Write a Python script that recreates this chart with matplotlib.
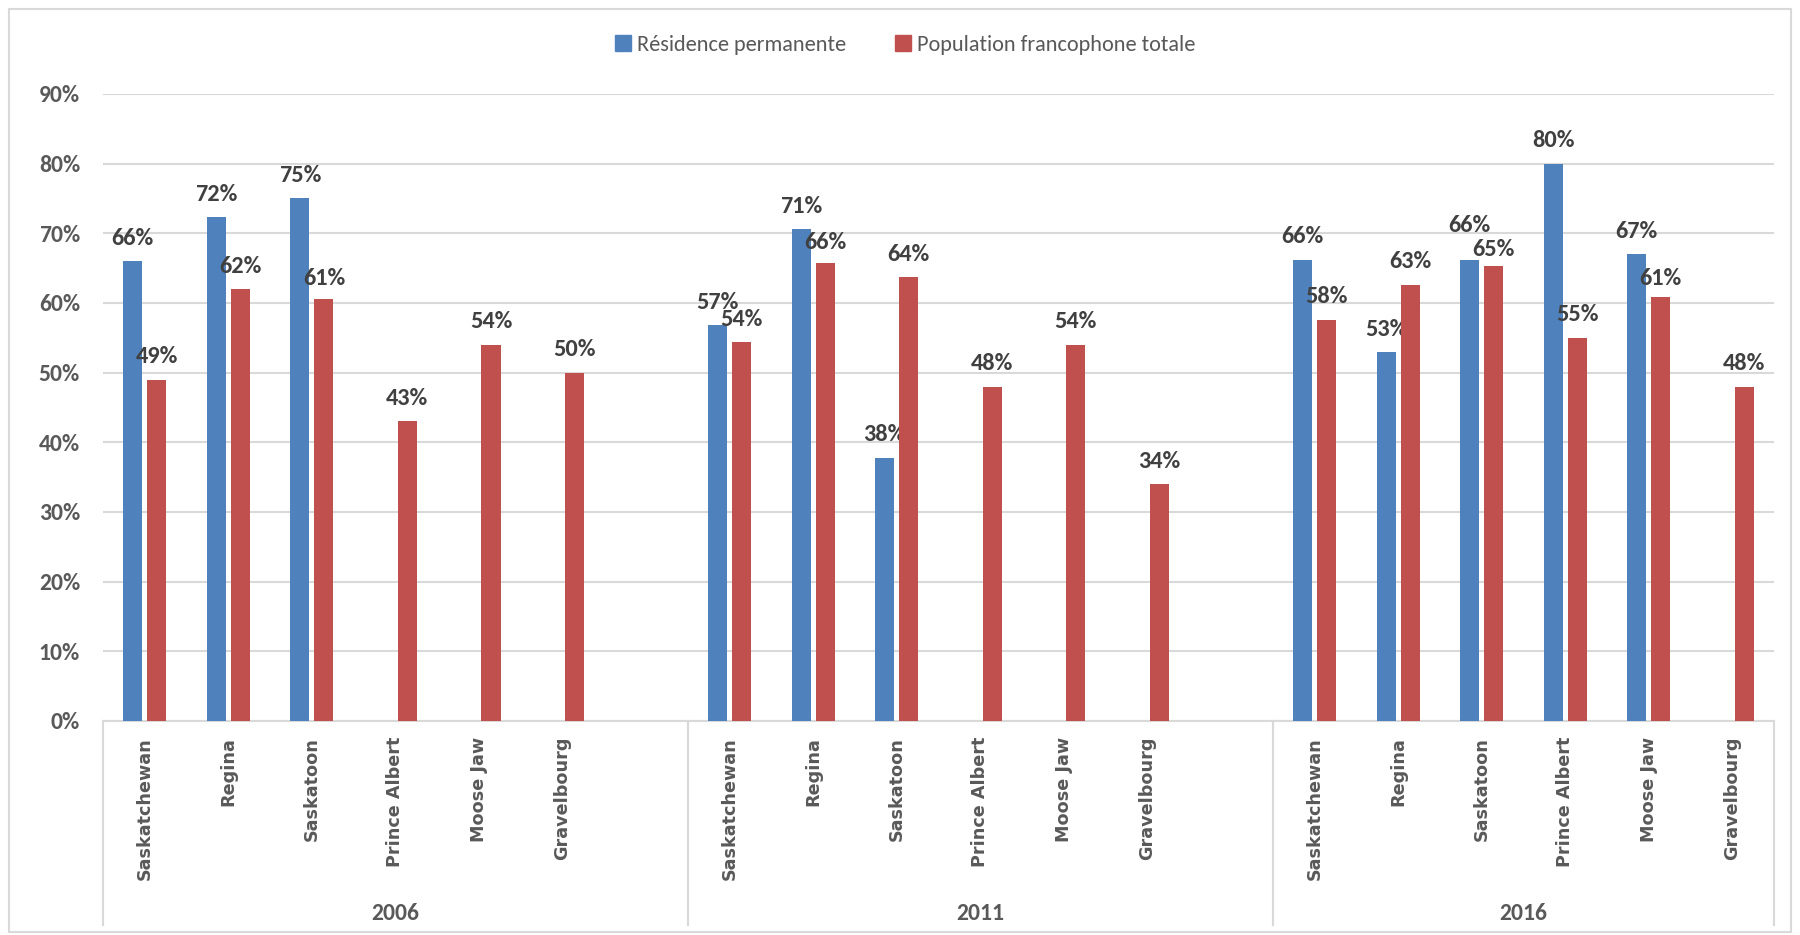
import matplotlib as mpl
mpl.use('agg')
import matplotlib.pyplot as plt
from matplotlib import font_manager
from matplotlib.patches import Patch
from matplotlib.lines import Line2D

years = ["2006", "2011", "2016"]
cities_2006 = ["Saskatchewan", "Regina", "Saskatoon", "Prince Albert", "Moose Jaw", "Gravelbourg", ""]
cities_2011 = ["Saskatchewan", "Regina", "Saskatoon", "Prince Albert", "Moose Jaw", "Gravelbourg", ""]
cities_2016 = ["Saskatchewan", "Regina", "Saskatoon", "Prince Albert", "Moose Jaw", "Gravelbourg"]

# résidence permanente (None = pas de donnée)
res_2006 = [0.66, 0.723, 0.75, None, None, None, None]
res_2011 = [0.568, 0.706, 0.378, None, None, None, None]
res_2016 = [0.662, 0.529, 0.662, 0.80, 0.67, None]
# population francophone totale
pop_2006 = [0.49, 0.62, 0.606, 0.43, 0.54, 0.50, None]
pop_2011 = [0.544, 0.658, 0.637, 0.48, 0.54, 0.34, None]
pop_2016 = [0.576, 0.626, 0.653, 0.55, 0.609, 0.48]

series_names = ["Résidence permanente", "Population francophone totale"]
blue = "#4F81BD"
red = "#C0504D"

installed = {f.name for f in font_manager.fontManager.ttflist}
narrow = "DejaVu Sans"
for name in ["Carlito", "Liberation Sans Narrow"]:
    if name in installed:
        narrow = name
        break

cities = cities_2006 + cities_2011 + cities_2016
res = res_2006 + res_2011 + res_2016
pop = pop_2006 + pop_2011 + pop_2016
groups = [len(cities_2006), len(cities_2011), len(cities_2016)]

# labels moved by hand in the original (pixels, + = up)
nudge = {(16, 0): 11, (16, 1): -6, (18, 1): -5, (8, 1): -3, (2, 1): -3}

fig = plt.figure(figsize=(18, 9.35), dpi=100)
ax = fig.add_axes([0.0572, 0.2289, 0.9284, 0.6706])

w = 0.228
off = 0.144
for i in range(len(cities)):
    for k, (val, dx, col) in enumerate([(res[i], -off, blue), (pop[i], off, red)]):
        if val is None:
            continue
        ax.bar(i + dx, val, width=w, color=col, zorder=3)
        dy = 16.5 + nudge.get((i, k), 0) / 1.389
        ax.annotate("{:.0%}".format(val), (i + dx, val), xytext=(0, dy),
                    textcoords="offset points", ha="center", va="center",
                    fontsize=17.5, fontweight="bold", color="#404040",
                    family=[narrow, "DejaVu Sans"])

ax.set_xlim(-0.5, len(cities) - 0.5)
ax.set_ylim(0, 0.9)
ax.set_yticks([i / 10 for i in range(10)])
ax.set_yticklabels(["{}%".format(i * 10) for i in range(10)])
ax.yaxis.grid(True, color="#D9D9D9", linewidth=1.5, zorder=0)
ax.tick_params(axis="y", length=0, pad=16.5, labelsize=17, labelcolor="#595959")
for lab in ax.get_yticklabels():
    lab.set_family([narrow, "DejaVu Sans"])
    lab.set_fontweight("bold")

ax.set_xticks(range(len(cities)))
ax.set_xticklabels(cities, rotation=90, fontsize=12.7, fontweight="bold",
                   color="#595959", family="DejaVu Sans")
ax.tick_params(axis="x", length=0, pad=11.5)

for s in ["top", "right", "left"]:
    ax.spines[s].set_visible(False)
ax.spines["bottom"].set_color("#D9D9D9")
ax.spines["bottom"].set_linewidth(1.5)

# group separators and year labels
start = -0.5
for n, year in zip(groups, years):
    for xs in [start, start + n]:
        ax.add_line(Line2D([xs, xs], [0, -0.325], transform=ax.get_xaxis_transform(),
                           color="#D9D9D9", linewidth=1.5, clip_on=False))
    ax.text(start + n / 2, -0.307, year, transform=ax.get_xaxis_transform(),
            ha="center", va="center", fontsize=17, fontweight="bold",
            color="#595959", family=[narrow, "DejaVu Sans"])
    start += n

handles = [Patch(color=blue), Patch(color=red)]
fig.legend(handles, series_names, loc="center", bbox_to_anchor=(0.503, 0.952),
           ncol=2, frameon=False, handlelength=0.7, handleheight=0.7,
           handletextpad=0.3, columnspacing=2.2,
           prop={"family": [narrow, "DejaVu Sans"], "size": 16}, labelcolor="#595959")

# outer chart border
fig.add_artist(plt.Rectangle((0.005, 0.003), 0.99, 0.987, transform=fig.transFigure,
                             fill=False, edgecolor="#D9D9D9", linewidth=1.5))

fig.savefig("out.png", dpi=100)
